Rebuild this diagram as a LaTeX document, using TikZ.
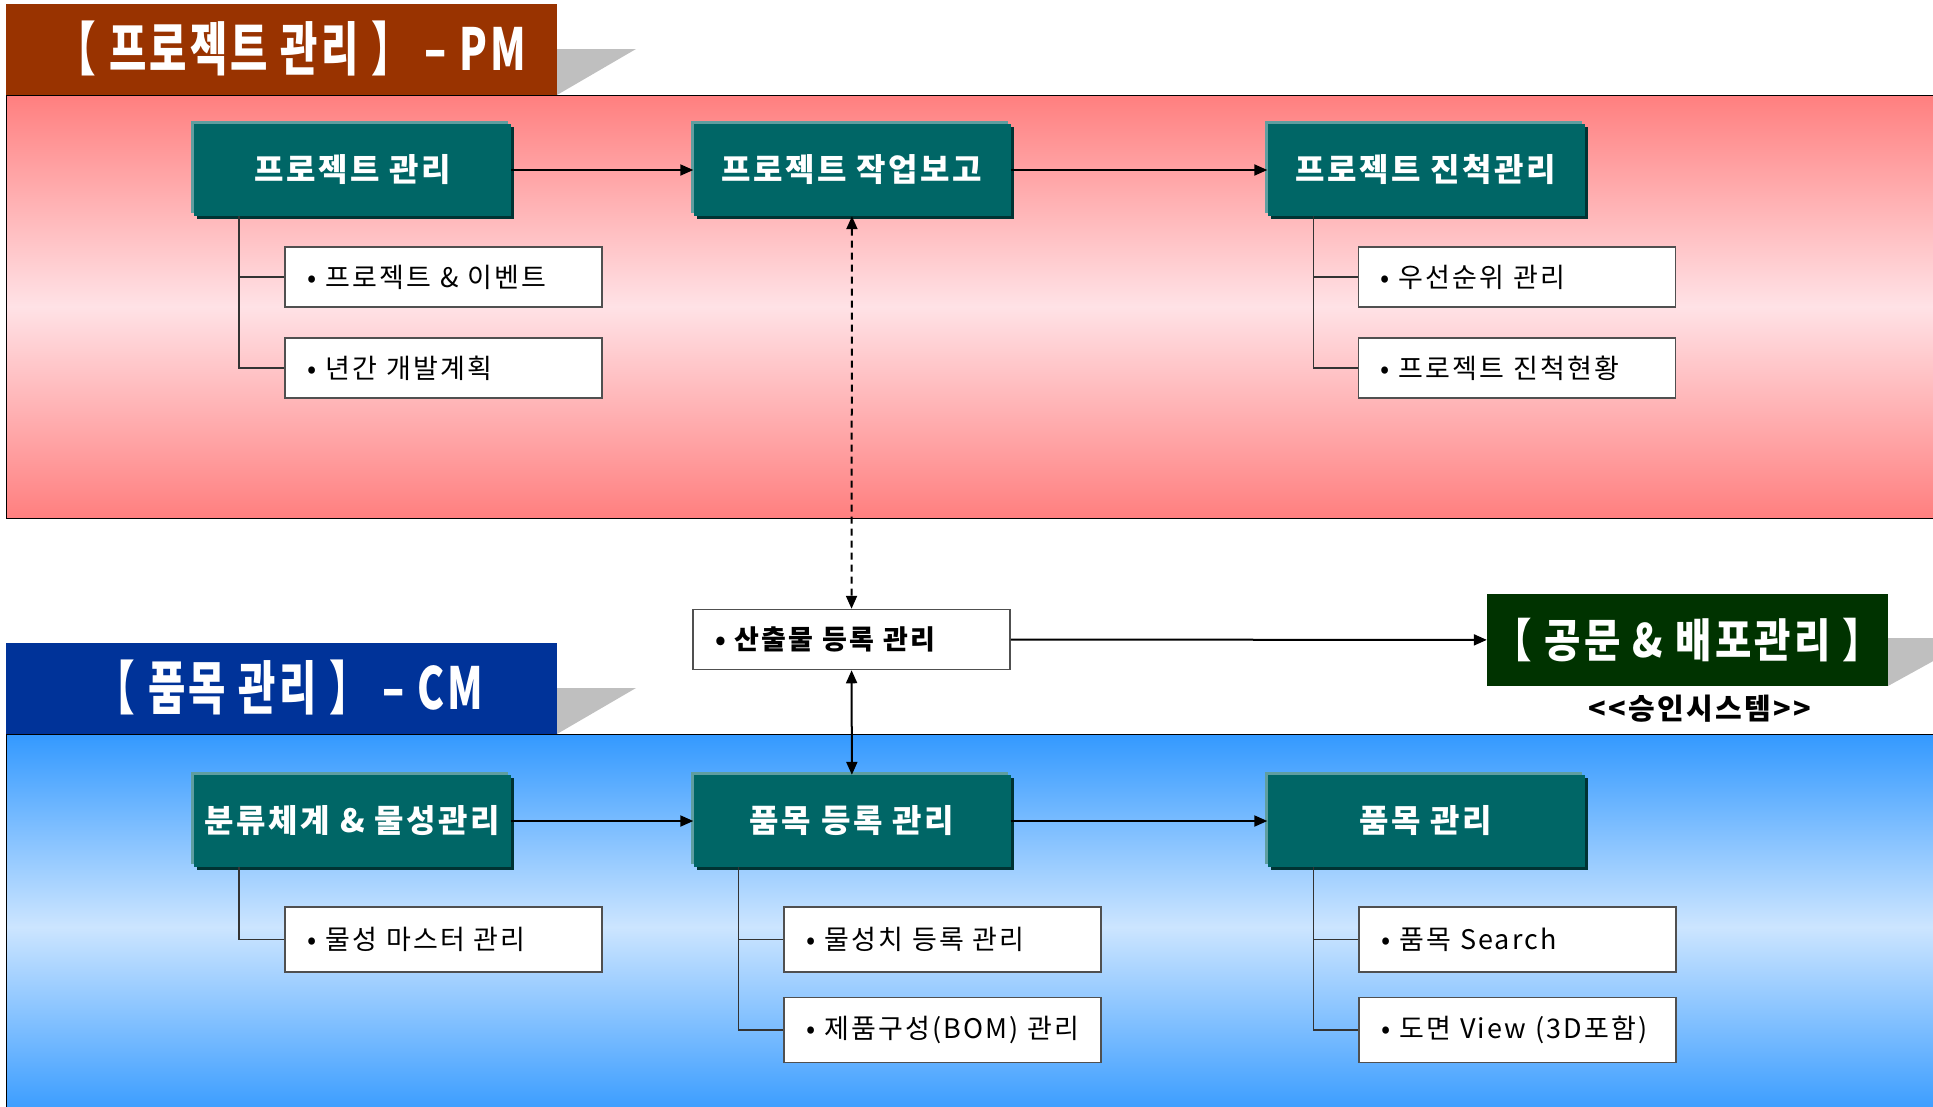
\documentclass[tikz,border=0pt]{standalone}
\usepackage{fontspec}
\setmainfont{Noto Sans CJK KR}[LetterSpace=8]
\usetikzlibrary{arrows.meta,shadows}
\definecolor{pmred}{HTML}{993300}
\definecolor{cmblue}{HTML}{003399}
\definecolor{docgreen}{HTML}{003300}
\definecolor{tabgray}{HTML}{BFBFBF}
\definecolor{pmtop}{HTML}{FF7F7F}
\definecolor{pmmid}{HTML}{FFE2E6}
\definecolor{cmtop}{HTML}{3399FF}
\definecolor{cmmid}{HTML}{CCE5FF}
\definecolor{boxteal}{HTML}{006666}
\definecolor{boxedge}{HTML}{5F9EA0}
\definecolor{boxdark}{HTML}{003333}
\definecolor{itemline}{HTML}{505050}

\begin{document}
\begin{tikzpicture}[x=1pt,y=-1pt,
  box/.style={fill=boxteal,minimum width=317pt,minimum height=92pt,inner sep=0pt,
    text=white,font=\fontsize{32}{38}\selectfont\bfseries,
    general shadow={shadow xshift=-3pt,shadow yshift=3pt,fill=boxedge},
    general shadow={shadow xshift=3pt,shadow yshift=-3pt,fill=boxdark}},
  item/.style={draw=itemline,line width=1.5pt,fill=white,minimum width=317pt,minimum height=60pt,
    inner xsep=22pt,text width=273pt,align=left,font=\fontsize{27}{32}\selectfont},
  head/.style={text=white,font=\fontsize{58}{64}\selectfont\bfseries},
  arr/.style={line width=2pt,-{Triangle[length=13pt,width=11pt]}},
  tree/.style={line width=1.5pt,draw=black!80}]
\useasboundingbox (0,0) rectangle (1933,1106);
\clip (0,0) rectangle (1933,1106);

\shade[top color=pmtop,bottom color=pmtop,middle color=pmmid] (6,95) rectangle (1940,518);
\draw[line width=1pt] (1940,95) -- (6,95) -- (6,518) -- (1940,518);
\shade[top color=cmtop,bottom color=cmtop,middle color=cmmid] (6,734) rectangle (1940,1120);
\draw[line width=1pt] (1940,734) -- (6,734) -- (6,1120);

\fill[tabgray] (557,49) -- (636,49) -- (557,95) -- cycle;
\fill[pmred] (6,4) rectangle (557,95);
\node[head] (pmhead) at (291,49) {\scalebox{0.7}[1]{【 프로젝트 관리 】 – PM}};

\fill[tabgray] (557,688) -- (636,688) -- (557,734) -- cycle;
\fill[cmblue] (6,643) rectangle (557,734);
\node[head] (cmhead) at (289,688) {\scalebox{0.7}[1]{【 품목 관리 】 – CM}};

\node[box] (pm) at (352.5,170) {프로젝트 관리};
\node[box] (pmrep) at (852,170) {프로젝트 작업보고};
\node[box] (pmprog) at (1426,170) {프로젝트 진척관리};
\node[item] (pmev) at (443.5,277) {• 프로젝트 \& 이벤트};
\node[item] (pmplan) at (443.5,368) {• 년간 개발계획};
\node[item] (pmprio) at (1517,277) {• 우선순위 관리};
\node[item] (pmstat) at (1517,368) {• 프로젝트 진척현황};

\node[item,font=\fontsize{27}{32}\selectfont\bfseries] (outp) at (851.5,639.5) {• 산출물 등록 관리};
\fill[tabgray] (1888,638) -- (1975,638) -- (1888,686) -- cycle;
\node[fill=docgreen,minimum width=401pt,minimum height=92pt,inner sep=0pt,text=white,
  font=\fontsize{46}{52}\selectfont\bfseries] (doc) at (1687.5,640) {\scalebox{0.86}[1]{【 공문 \& 배포관리 】}};
\node[font=\fontsize{29}{34}\selectfont\bfseries] (approval) at (1700,709) {<{}<승인시스템>{}>};

\node[box] (cmcls) at (352.5,821) {분류체계 \& 물성관리};
\node[box] (cmreg) at (852,821) {품목 등록 관리};
\node[box] (cmitem) at (1426,821) {품목 관리};
\node[item,minimum height=65pt] (cmmast) at (443.5,939.5) {• 물성 마스터 관리};
\node[item,minimum height=65pt] (cmval) at (942.5,939.5) {• 물성치 등록 관리};
\node[item,minimum height=65pt] (cmbom) at (942.5,1030) {• 제품구성(BOM) 관리};
\node[item,minimum height=65pt] (cmsrch) at (1517.5,939.5) {• 품목 Search};
\node[item,minimum height=65pt] (cmview) at (1517.5,1030) {• 도면 View (3D포함)};

\draw[arr] (pm) -- (pmrep);
\draw[arr] (pmrep) -- (pmprog);
\draw[arr] (cmcls) -- (cmreg);
\draw[arr] (cmreg) -- (cmitem);
\draw[arr] (outp) -- (doc);
\draw[arr,{Triangle[length=13pt,width=11pt]}-{Triangle[length=13pt,width=11pt]},dashed,dash pattern=on 7pt off 5pt] (pmrep) -- (outp);
\draw[arr,{Triangle[length=13pt,width=11pt]}-{Triangle[length=13pt,width=11pt]}] (outp) -- (cmreg);

\draw[tree] ([xshift=45pt]pm.south west) |- (pmev.west);
\draw[tree] ([xshift=45pt]pm.south west) |- (pmplan.west);
\draw[tree] ([xshift=46pt]pmprog.south west) |- (pmprio.west);
\draw[tree] ([xshift=46pt]pmprog.south west) |- (pmstat.west);
\draw[tree] ([xshift=45pt]cmcls.south west) |- (cmmast.west);
\draw[tree] ([xshift=45pt]cmreg.south west) |- (cmval.west);
\draw[tree] ([xshift=45pt]cmreg.south west) |- (cmbom.west);
\draw[tree] ([xshift=46pt]cmitem.south west) |- (cmsrch.west);
\draw[tree] ([xshift=46pt]cmitem.south west) |- (cmview.west);
\end{tikzpicture}
\end{document}
